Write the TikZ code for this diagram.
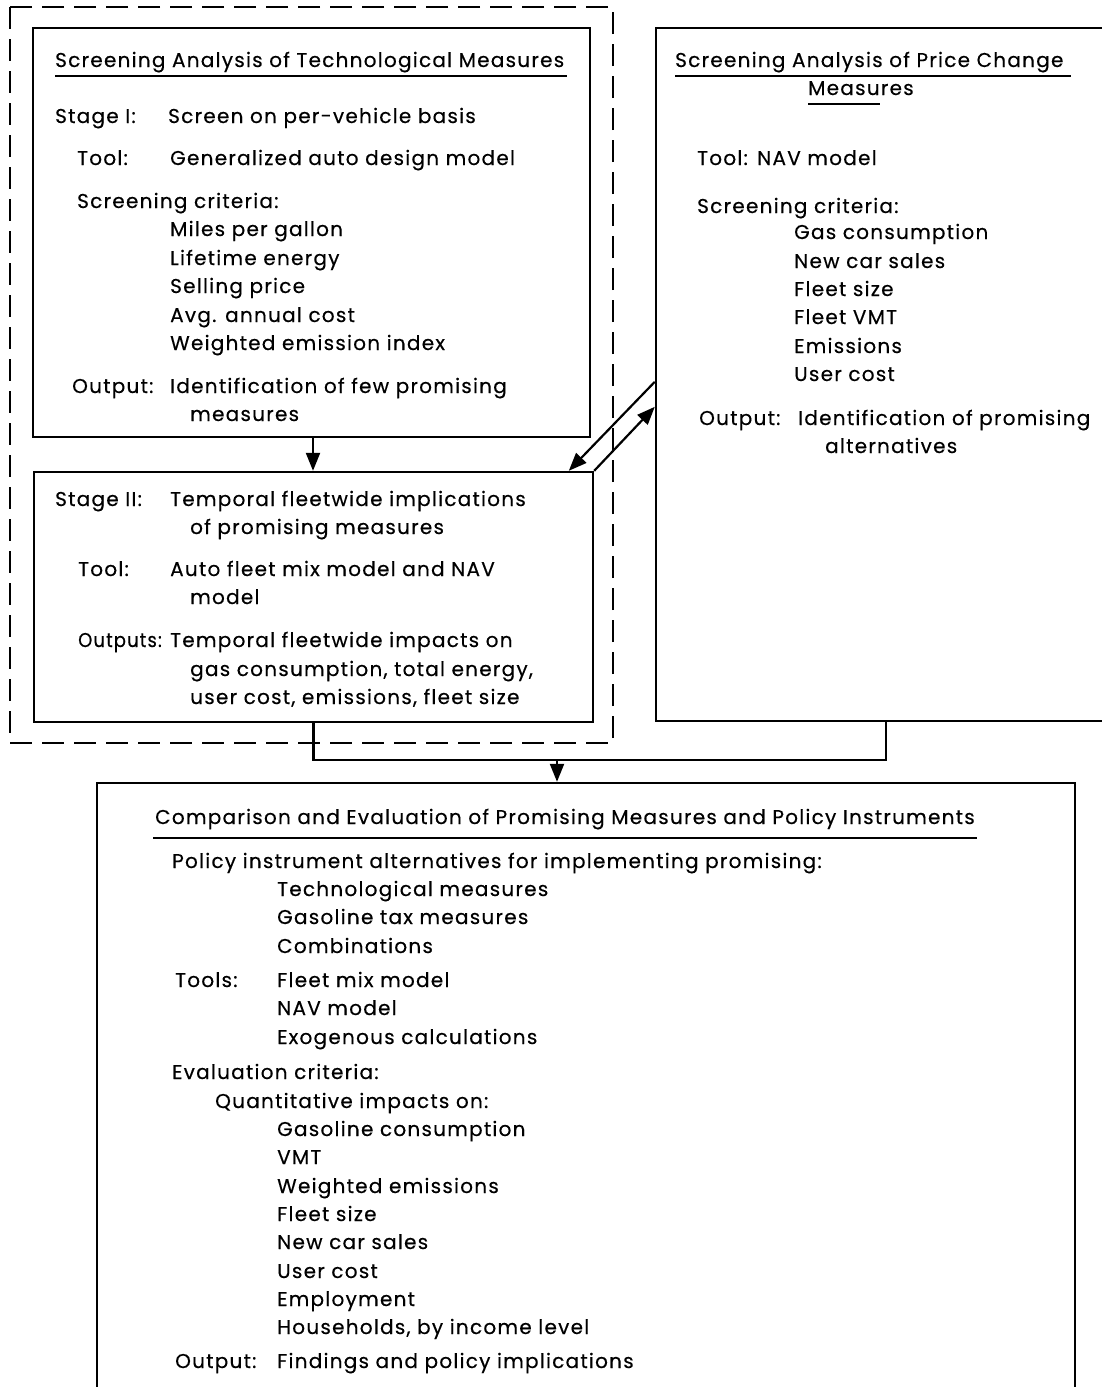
\documentclass[tikz,border=0pt]{standalone}
\usepackage{fontspec}
\setmainfont[LetterSpace=6.3,FakeBold=0.4]{Poppins}
\usetikzlibrary{arrows.meta,calc}
\begin{document}
\begin{tikzpicture}[x=1pt,y=-1pt,
  txt/.style={anchor=base west,inner sep=0pt,font=\fontsize{20}{23}\selectfont},
  box/.style={draw,line width=2.4pt,inner sep=0pt},
  dbox/.style={draw,line width=2.2pt,dash pattern=on 22pt off 10pt},
  ul/.style={line width=1.8pt},
  conn/.style={line width=2.2pt},
  arr/.style={line width=2.2pt,-{Triangle[length=18pt,width=14pt]}}]
\useasboundingbox (0,0) rectangle (1102,1387);
% boxes
\draw[dbox] (10,7) rectangle (613,743);
\node[box,minimum width=557pt,minimum height=409pt] (b1) at (311.5,232.5) {};
\node[box,minimum width=559pt,minimum height=250pt] (b2) at (313.5,597) {};
\node[box,minimum width=460pt,minimum height=693pt] (rb) at (886,374.5) {};
\node[box,minimum width=978pt,minimum height=640pt] (b3) at (586,1103) {};
% top box text
\node[txt] (t1) at (55,67) {Screening Analysis of Technological Measures};
\draw[ul] (55,76) -- (567,76);
\node[txt] (t2) at (55,123) {Stage I:};
\node[txt] (t3) at (168,123) {Screen on per-vehicle basis};
\node[txt] (t4) at (77,165) {Tool:};
\node[txt] (t5) at (170,165) {Generalized auto design model};
\node[txt] (t6) at (77,208) {Screening criteria:};
\node[txt] (t7) at (170,236) {Miles per gallon};
\node[txt] (t8) at (170,265) {Lifetime energy};
\node[txt] (t9) at (170,293) {Selling price};
\node[txt] (t10) at (170,322) {Avg. annual cost};
\node[txt] (t11) at (170,350) {Weighted emission index};
\node[txt] (t12) at (72,393) {Output:};
\node[txt] (t13) at (170,393) {Identification of few promising};
\node[txt] (t14) at (190,421) {measures};
% stage II text
\node[txt] (s1) at (55,506) {Stage II:};
\node[txt] (s2) at (170,506) {Temporal fleetwide implications};
\node[txt] (s3) at (190,534) {of promising measures};
\node[txt] (s4) at (78,576) {Tool:};
\node[txt] (s5) at (170,576) {Auto fleet mix model and NAV};
\node[txt] (s6) at (190,604) {model};
\node[txt] (s7) at (78,647) {\scalebox{0.9}[1]{Outputs:}};
\node[txt] (s8) at (170,647) {Temporal fleetwide impacts on};
\node[txt] (s9) at (190,676) {gas consumption, total energy,};
\node[txt] (s10) at (190,704) {user cost, emissions, fleet size};
% right box text
\node[txt] (r1) at (675,67) {Screening Analysis of Price Change};
\draw[ul] (675,76) -- (1071,76);
\node[txt] (r2) at (808,95) {Measures};
\draw[ul] (808,104) -- (880,104);
\node[txt] (r3) at (697,165) {Tool:};
\node[txt] (r4) at (757,165) {NAV model};
\node[txt] (r5) at (697,213) {Screening criteria:};
\node[txt] (r6) at (794,239) {Gas consumption};
\node[txt] (r7) at (794,268) {New car sales};
\node[txt] (r8) at (794,296) {Fleet size};
\node[txt] (r9) at (794,324) {Fleet VMT};
\node[txt] (r10) at (794,353) {Emissions};
\node[txt] (r11) at (794,381) {User cost};
\node[txt] (r12) at (699,425) {Output:};
\node[txt] (r13) at (798,425) {Identification of promising};
\node[txt] (r14) at (825,453) {alternatives};
% bottom box text
\node[txt] (c1) at (155,824) {Comparison and Evaluation of Promising Measures and Policy Instruments};
\draw[ul] (153,838) -- (977,838);
\node[txt] (c2) at (172,868) {Policy instrument alternatives for implementing promising:};
\node[txt] (c3) at (277,896) {Technological measures};
\node[txt] (c4) at (277,924) {Gasoline tax measures};
\node[txt] (c5) at (277,953) {Combinations};
\node[txt] (c6) at (175,987) {Tools:};
\node[txt] (c7) at (277,987) {Fleet mix model};
\node[txt] (c8) at (277,1015) {NAV model};
\node[txt] (c9) at (277,1044) {Exogenous calculations};
\node[txt] (c10) at (172,1079) {Evaluation criteria:};
\node[txt] (c11) at (215,1108) {Quantitative impacts on:};
\node[txt] (c12) at (277,1136) {Gasoline consumption};
\node[txt] (c13) at (277,1164) {VMT};
\node[txt] (c14) at (277,1193) {Weighted emissions};
\node[txt] (c15) at (277,1221) {Fleet size};
\node[txt] (c16) at (277,1249) {New car sales};
\node[txt] (c17) at (277,1278) {User cost};
\node[txt] (c18) at (277,1306) {Employment};
\node[txt] (c19) at (277,1334) {Households, by income level};
\node[txt] (c20) at (175,1368) {Output:};
\node[txt] (c21) at (277,1368) {Findings and policy implications};
% connectors
\draw[arr] (b1.south -| 313,0) -- (b2.north -| 313,0);
\coordinate (d1s) at ($(rb.north west)+(0,355)$);
\coordinate (d1e) at ($(b2.north west)+(536,0)$);
\coordinate (d2e) at ($(rb.north west)+(0,380)$);
\draw[arr] (d1s) -- (d1e);
\draw[arr] (b2.north east) -- (d2e);
\coordinate (m) at (557,760);
\draw[conn] (b2.south) |- (m) -| (rb.south);
\draw[arr] (m) -- (m |- b3.north);
\end{tikzpicture}
\end{document}
